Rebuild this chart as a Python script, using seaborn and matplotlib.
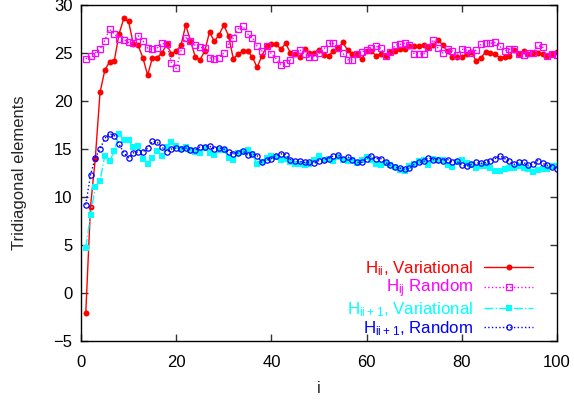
import numpy as np
import pandas as pd
import seaborn as sns
import matplotlib
matplotlib.use("Agg")
import matplotlib.pyplot as plt

idx = list(range(1, 101))

h_ii_var = [-2.1, 9.0, 14.0, 20.9, 23.2, 24.1, 24.2, 27.0, 28.6, 28.3,
            25.9, 25.8, 24.5, 22.7, 24.5, 24.5, 25.0, 25.9, 24.9, 25.2,
            25.8, 27.9, 26.3, 24.6, 24.3, 25.2, 27.2, 26.2, 26.9, 27.9,
            26.8, 24.4, 24.9, 25.2, 25.2, 24.6, 23.5, 24.7, 25.7, 25.9,
            25.9, 25.4, 26.0, 25.0, 24.9, 24.6, 25.4, 25.0, 25.0, 25.3,
            24.8, 24.7, 25.2, 25.5, 26.1, 25.3, 24.9, 24.9, 24.4, 25.2,
            25.2, 24.7, 24.9, 24.7, 25.1, 25.2, 25.4, 25.4, 25.7, 25.7,
            25.7, 25.8, 25.6, 25.8, 26.4, 25.8, 25.2, 24.6, 24.6, 24.6,
            24.9, 25.1, 24.2, 24.5, 25.1, 25.0, 24.9, 24.5, 24.6, 24.7,
            25.3, 24.9, 25.2, 24.9, 25.0, 25.0, 24.9, 24.7, 24.9, 25.1]

h_ij_rand = [24.4, 24.7, 25.0, 25.4, 26.3, 27.5, 27.0, 26.5, 26.4, 26.1,
             26.0, 26.8, 26.3, 25.5, 25.4, 25.5, 26.0, 25.9, 24.0, 23.4,
             25.2, 26.6, 26.3, 25.8, 25.6, 25.5, 24.5, 24.4, 24.5, 25.0,
             25.9, 26.6, 27.5, 27.8, 27.0, 26.6, 25.7, 25.2, 25.7, 24.9,
             24.4, 23.8, 24.0, 24.3, 25.0, 25.3, 24.9, 24.6, 24.6, 25.0,
             25.4, 26.0, 26.0, 25.5, 25.0, 24.3, 24.3, 24.9, 25.1, 25.3,
             25.5, 25.7, 25.5, 24.7, 25.1, 25.8, 25.9, 26.0, 25.8, 24.9,
             24.9, 24.9, 25.6, 26.4, 25.5, 25.0, 25.4, 25.2, 24.8, 25.4,
             25.3, 25.0, 25.3, 25.9, 26.0, 26.0, 26.1, 25.7, 25.2, 25.4,
             25.4, 24.9, 24.8, 25.0, 25.0, 25.8, 25.6, 24.7, 24.9, 24.8]

h_ii1_var = [4.7, 8.1, 11.0, 11.7, 14.3, 13.7, 14.8, 16.6, 15.9, 15.9,
             15.2, 15.3, 14.0, 13.4, 14.1, 14.8, 14.3, 15.2, 15.7, 15.3,
             15.0, 15.2, 14.9, 14.7, 14.6, 15.1, 14.6, 14.4, 14.9, 14.9,
             14.1, 13.9, 14.6, 14.7, 14.9, 14.5, 13.4, 13.6, 14.1, 14.3,
             14.2, 13.9, 14.0, 13.6, 13.4, 13.4, 13.3, 13.4, 13.9, 14.3,
             13.9, 14.0, 13.8, 14.2, 13.9, 13.7, 13.9, 13.5, 13.9, 14.2,
             13.9, 13.4, 13.3, 13.5, 13.3, 13.1, 12.8, 12.7, 13.2, 13.4,
             13.7, 13.9, 13.3, 14.0, 13.9, 13.9, 13.3, 13.1, 13.6, 13.9,
             13.5, 13.3, 13.0, 13.2, 13.2, 13.0, 12.7, 12.7, 12.9, 13.0,
             13.0, 13.2, 13.0, 12.9, 12.6, 12.8, 12.9, 12.9, 13.2, 13.2]

h_ii1_rand = [9.2, 12.3, 14.1, 15.0, 16.1, 16.6, 16.4, 15.5, 14.6, 14.1,
              14.6, 14.7, 14.7, 15.1, 15.8, 15.7, 15.2, 14.7, 15.0, 15.1,
              15.0, 15.1, 14.9, 14.9, 15.2, 15.2, 15.3, 15.0, 15.1, 15.0,
              14.7, 14.5, 14.6, 14.8, 14.4, 14.5, 14.3, 13.6, 13.9, 14.0,
              14.3, 14.5, 14.4, 13.9, 13.7, 13.7, 13.6, 13.6, 13.5, 13.8,
              13.9, 14.0, 14.3, 14.4, 14.0, 14.2, 13.9, 13.6, 13.6, 14.0,
              14.3, 14.0, 14.0, 13.6, 13.3, 13.1, 13.0, 12.9, 13.0, 13.4,
              13.6, 13.7, 14.1, 13.9, 13.9, 13.8, 13.9, 13.6, 13.7, 13.3,
              13.2, 13.4, 13.6, 13.5, 13.6, 13.8, 14.0, 14.3, 14.0, 13.7,
              13.4, 13.6, 13.6, 13.3, 13.4, 13.8, 13.5, 13.3, 13.1, 12.9]

labels = [r"$\mathregular{H_{ii}}$, Variational",
          r"$\mathregular{H_{ij}}$ Random",
          r"$\mathregular{H_{ii+1}}$, Variational",
          r"$\mathregular{H_{ii+1}}$, Random"]
x_ticks = [0, 20, 40, 60, 80, 100]
y_ticks = [-5, 0, 5, 10, 15, 20, 25, 30]

sns.set_style("ticks")
plt.rcParams["font.family"] = ["Liberation Sans", "DejaVu Sans"]
plt.rcParams["mathtext.fontset"] = "custom"
plt.rcParams["mathtext.rm"] = "Liberation Sans"

fig = plt.figure(figsize=(5.74, 4.03), dpi=100)
ax = fig.add_axes([81 / 574, 1 - 341 / 403, 476 / 574, 336 / 403])

series = [
    (h_ii_var, labels[0], "#ff0000", "-", "o", dict(markersize=4.3, markerfacecolor="#ff0000", markeredgewidth=0)),
    (h_ij_rand, labels[1], "#ff00ff", ":", "s", dict(markersize=4.3, markerfacecolor="none", markeredgewidth=0.9)),
    (h_ii1_var, labels[2], "#00ffff", "-.", "s", dict(markersize=4.3, markerfacecolor="#00ffff", markeredgewidth=0)),
    (h_ii1_rand, labels[3], "#0000ff", ":", "o", dict(markersize=3.8, markerfacecolor="none", markeredgewidth=0.9)),
]

for vals, lab, col, ls, mk, kw in series:
    df = pd.DataFrame({"i": idx, "v": vals})
    sns.lineplot(data=df, x="i", y="v", ax=ax, color=col, linestyle=ls,
                 marker=mk, markeredgecolor=col, linewidth=1.0, label=lab, **kw)

ax.set_xlim(0, 100)
ax.set_ylim(-5, 30)
ax.set_xticks(x_ticks)
ax.set_yticks(y_ticks)
ax.tick_params(direction="in", top=True, right=True, length=5, width=1,
               labelsize=12, colors="black", color="#333333")
ax.tick_params(axis="x", pad=10)
ax.tick_params(axis="y", pad=6)
for s in ax.spines.values():
    s.set_visible(True)
    s.set_linewidth(1.0)
    s.set_color("black")
ax.set_xlabel("i", fontsize=12, labelpad=8)
ax.set_ylabel("Tridiagonal elements", fontsize=12, labelpad=19)

leg = ax.legend(loc="lower right", bbox_to_anchor=(0.956, 0.0), frameon=False,
                markerfirst=False, labelcolor="linecolor", fontsize=12.2,
                handlelength=2.85, handletextpad=0.65, labelspacing=0.0,
                borderpad=0.2, borderaxespad=0)

fig.savefig("out.png", dpi=100)
